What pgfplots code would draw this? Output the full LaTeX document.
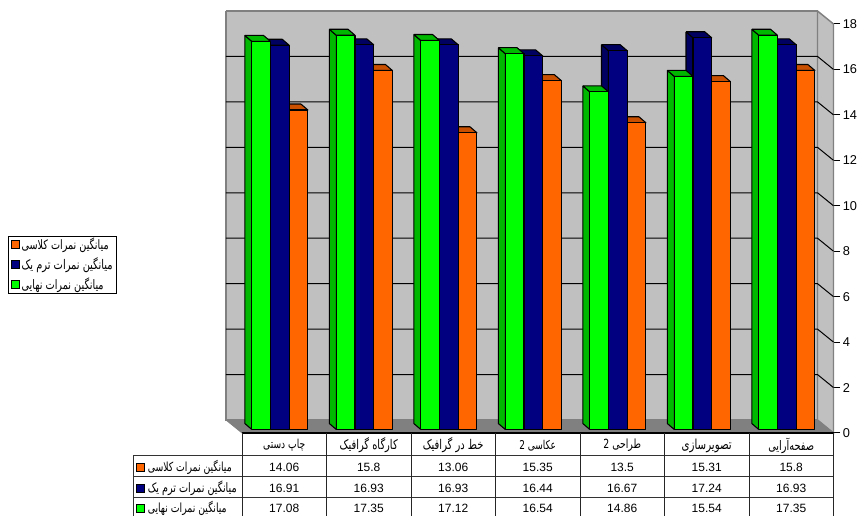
\documentclass[border=0pt]{standalone}
\usepackage{fontspec}
\usepackage{graphicx}
\usepackage{pgfplots}
\pgfplotsset{compat=1.18}
\setmainfont{Liberation Sans}
\newfontfamily\arabicfont[Script=Arabic]{DejaVu Sans}
\TeXXeTstate=1

\definecolor{wall}{HTML}{C0C0C0}
\definecolor{edge}{HTML}{808080}
\definecolor{greenF}{HTML}{00FF00}\definecolor{greenS}{HTML}{00B800}
\definecolor{navyF}{HTML}{000080}\definecolor{navyS}{HTML}{000060}
\definecolor{orangeF}{HTML}{FF6600}\definecolor{orangeS}{HTML}{C85000}

% Persian text set to a given width in pixels, drawn a little taller than wide
\newcommand{\fa}[2]{\scalebox{1}[1.35]{\resizebox{\dimexpr #1pt*3/4\relax}{!}{\arabicfont #2}}}

% One cuboid column: group, slot, value, front colour, shaded colour
\newcommand{\column}[5]{%
  \pgfmathsetmacro\xa{#1+(9.8+18.7*#2)/84.5}%
  \pgfmathsetmacro\xb{\xa+18.7/84.5}%
  \pgfmathsetmacro\xc{\xa-7/84.5}%
  \pgfmathsetmacro\xd{\xb-7/84.5}%
  \pgfmathsetmacro\ya{3.5/22.72}%
  \pgfmathsetmacro\yb{#3+\ya}%
  \pgfmathsetmacro\yc{\yb+6/22.72}%
  \pgfmathsetmacro\ye{\ya+6/22.72}%
  \edef\temp{%
    \noexpand\addplot[forget plot,fill=#5,draw=black,line width=.8pt,line join=round]
      coordinates {(\xc,\yc)(\xa,\yb)(\xa,\ya)(\xc,\ye)(\xc,\yc)};
    \noexpand\addplot[forget plot,fill=#5,draw=black,line width=.8pt,line join=round]
      coordinates {(\xc,\yc)(\xd,\yc)(\xb,\yb)(\xa,\yb)(\xc,\yc)};
    \noexpand\addplot[forget plot,fill=#4,draw=black,line width=.8pt,line join=round]
      coordinates {(\xa,\ya)(\xa,\yb)(\xb,\yb)(\xb,\ya)(\xa,\ya)};
  }\temp}

% Rear-wall grid line continuing along the side wall down to its tick
\newcommand{\wallline}[1]{%
  \pgfmathsetmacro\yw{#1+0.5722}%
  \edef\temp{\noexpand\addplot[forget plot,black,line width=.75pt]
    coordinates {(-0.18935,\yw)(6.81065,\yw)(7,#1)};}\temp}

% Group of three columns, drawn back to front
\newcommand{\group}[4]{%
  \column{#1}{2}{#2}{orangeF}{orangeS}%
  \column{#1}{1}{#3}{navyF}{navyS}%
  \column{#1}{0}{#4}{greenF}{greenS}}

\newcommand{\tablerow}[8]{%
  \node[font=\fontsize{9pt}{10pt}\selectfont] at (284.2,#1) {#2};
  \node[font=\fontsize{9pt}{10pt}\selectfont] at (368.7,#1) {#3};
  \node[font=\fontsize{9pt}{10pt}\selectfont] at (453.2,#1) {#4};
  \node[font=\fontsize{9pt}{10pt}\selectfont] at (537.7,#1) {#5};
  \node[font=\fontsize{9pt}{10pt}\selectfont] at (622.2,#1) {#6};
  \node[font=\fontsize{9pt}{10pt}\selectfont] at (706.7,#1) {#7};
  \node[font=\fontsize{9pt}{10pt}\selectfont] at (791.2,#1) {#8};}

\begin{document}
\begin{tikzpicture}
\useasboundingbox (0,0) rectangle (642.75pt,387pt);
\begin{axis}[
  at={(181.5pt,62.25pt)}, anchor=origin,
  scale only axis, width=443.625pt, height=306.75pt,
  xmin=0, xmax=7, ymin=0, ymax=18, clip=false,
  axis x line=none, axis y line=right,
  axis line style={-,draw=edge,line width=1pt},
  ytick={0,2,...,18}, tick align=outside,
  major tick length=5pt,
  tick style={black,line width=.75pt},
  tick label style={font=\fontsize{9.6pt}{11pt}\selectfont},
  yticklabel style={anchor=west,inner sep=0pt,xshift=1.8pt},
  /pgf/number format/assume math mode=true,
  legend image code/.code={\draw[#1] (0pt,-3pt) rectangle (6pt,3pt);},
  legend cell align=left,
  legend style={at={(-0.3956,0.3399)},anchor=south west,draw=black,line width=.7pt,
    inner xsep=1.6pt,inner ysep=2.9pt,
    nodes={inner xsep=1.6pt,inner ysep=0pt,text height=7.5pt,text depth=0pt},
    row sep=7.4pt,
    /tikz/every even column/.append style={column sep=0pt}},
]
% Rear wall, side wall and floor
\addplot[forget plot,fill=wall,draw=edge,line width=1.1pt]
  coordinates {(-0.18935,18.5722)(6.81065,18.5722)(6.81065,0.5722)(-0.18935,0.5722)(-0.18935,18.5722)};
\addplot[forget plot,fill=wall,draw=edge,line width=1.1pt]
  coordinates {(6.81065,18.5722)(7,18)(7,0)(6.81065,0.5722)(6.81065,18.5722)};
\addplot[forget plot,fill=edge,draw=edge,line width=.6pt]
  coordinates {(-0.18935,0.5722)(6.81065,0.5722)(7,0)(0,0)(-0.18935,0.5722)};
\wallline{2}\wallline{4}\wallline{6}\wallline{8}
\wallline{10}\wallline{12}\wallline{14}\wallline{16}

% Columns: class mean, term-one mean, final mean
\group{0}{14.06}{16.91}{17.08}
\group{1}{15.8}{16.93}{17.35}
\group{2}{13.06}{16.93}{17.12}
\group{3}{15.35}{16.44}{16.54}
\group{4}{13.5}{16.67}{14.86}
\group{5}{15.31}{17.24}{15.54}
\group{6}{15.8}{16.93}{17.35}

\addlegendimage{fill=orangeF,draw=black,line width=.7pt}
\addlegendentry{\fa{87}{\beginR میانگین نمرات کلاسی\endR}}
\addlegendimage{fill=navyF,draw=black,line width=.7pt}
\addlegendentry{\fa{91}{\beginR میانگین نمرات ترم یک\endR}}
\addlegendimage{fill=greenF,draw=black,line width=.7pt}
\addlegendentry{\fa{82}{\beginR میانگین نمرات نهایی\endR}}
\end{axis}

% Data table under the plot, in pixel units measured from the top left
\begin{scope}[shift={(0,387pt)},x=.75pt,y=-.75pt]
  \draw[black,line width=1.6pt] (242,433.3) -- (833.5,433.3);
  \foreach \r in {455.7,477,497.7} \draw[black!80,line width=.75pt] (133,\r) -- (833.5,\r);
  \draw[black!80,line width=.75pt] (133,455.7) -- (133,516);
  \foreach \c in {242,326.5,411,495.5,580,664.5,749,833.5}
    \draw[black!85,line width=.75pt] (\c,433.3) -- (\c,516);
  \node at (284.2,445.5) {\fa{42}{\beginR چاپ دستی\endR}};
  \node at (368.7,445.5) {\fa{58}{\beginR کارگاه گرافیک\endR}};
  \node at (453.2,445.5) {\fa{60.7}{\beginR خط در گرافیک\endR}};
  \node at (537.7,445.5) {\fa{36.7}{\beginR عکاسی 2\endR}};
  \node at (622.2,445.5) {\fa{37.7}{\beginR طراحی 2\endR}};
  \node at (706.7,445.5) {\fa{50}{\beginR تصویرسازی\endR}};
  \node at (791.2,445.5) {\fa{45.7}{\beginR صفحه‌آرایی\endR}};
  \tablerow{467.2}{14.06}{15.8}{13.06}{15.35}{13.5}{15.31}{15.8}
  \tablerow{488.4}{16.91}{16.93}{16.93}{16.44}{16.67}{17.24}{16.93}
  \tablerow{508.8}{17.08}{17.35}{17.12}{16.54}{14.86}{15.54}{17.35}
  \draw[fill=orangeF,line width=.7pt] (136.5,463.2) rectangle (144.5,471.2);
  \draw[fill=navyF,line width=.7pt] (136.5,484.4) rectangle (144.5,492.4);
  \draw[fill=greenF,line width=.7pt] (136.5,504.8) rectangle (144.5,512.8);
  \node[anchor=west,inner sep=0pt] at (147.5,467.2) {\fa{84}{\beginR میانگین نمرات کلاسی\endR}};
  \node[anchor=west,inner sep=0pt] at (147.5,488.4) {\fa{89}{\beginR میانگین نمرات ترم یک\endR}};
  \node[anchor=west,inner sep=0pt] at (147.5,508.8) {\fa{79}{\beginR میانگین نمرات نهایی\endR}};
\end{scope}
\end{tikzpicture}
\end{document}
